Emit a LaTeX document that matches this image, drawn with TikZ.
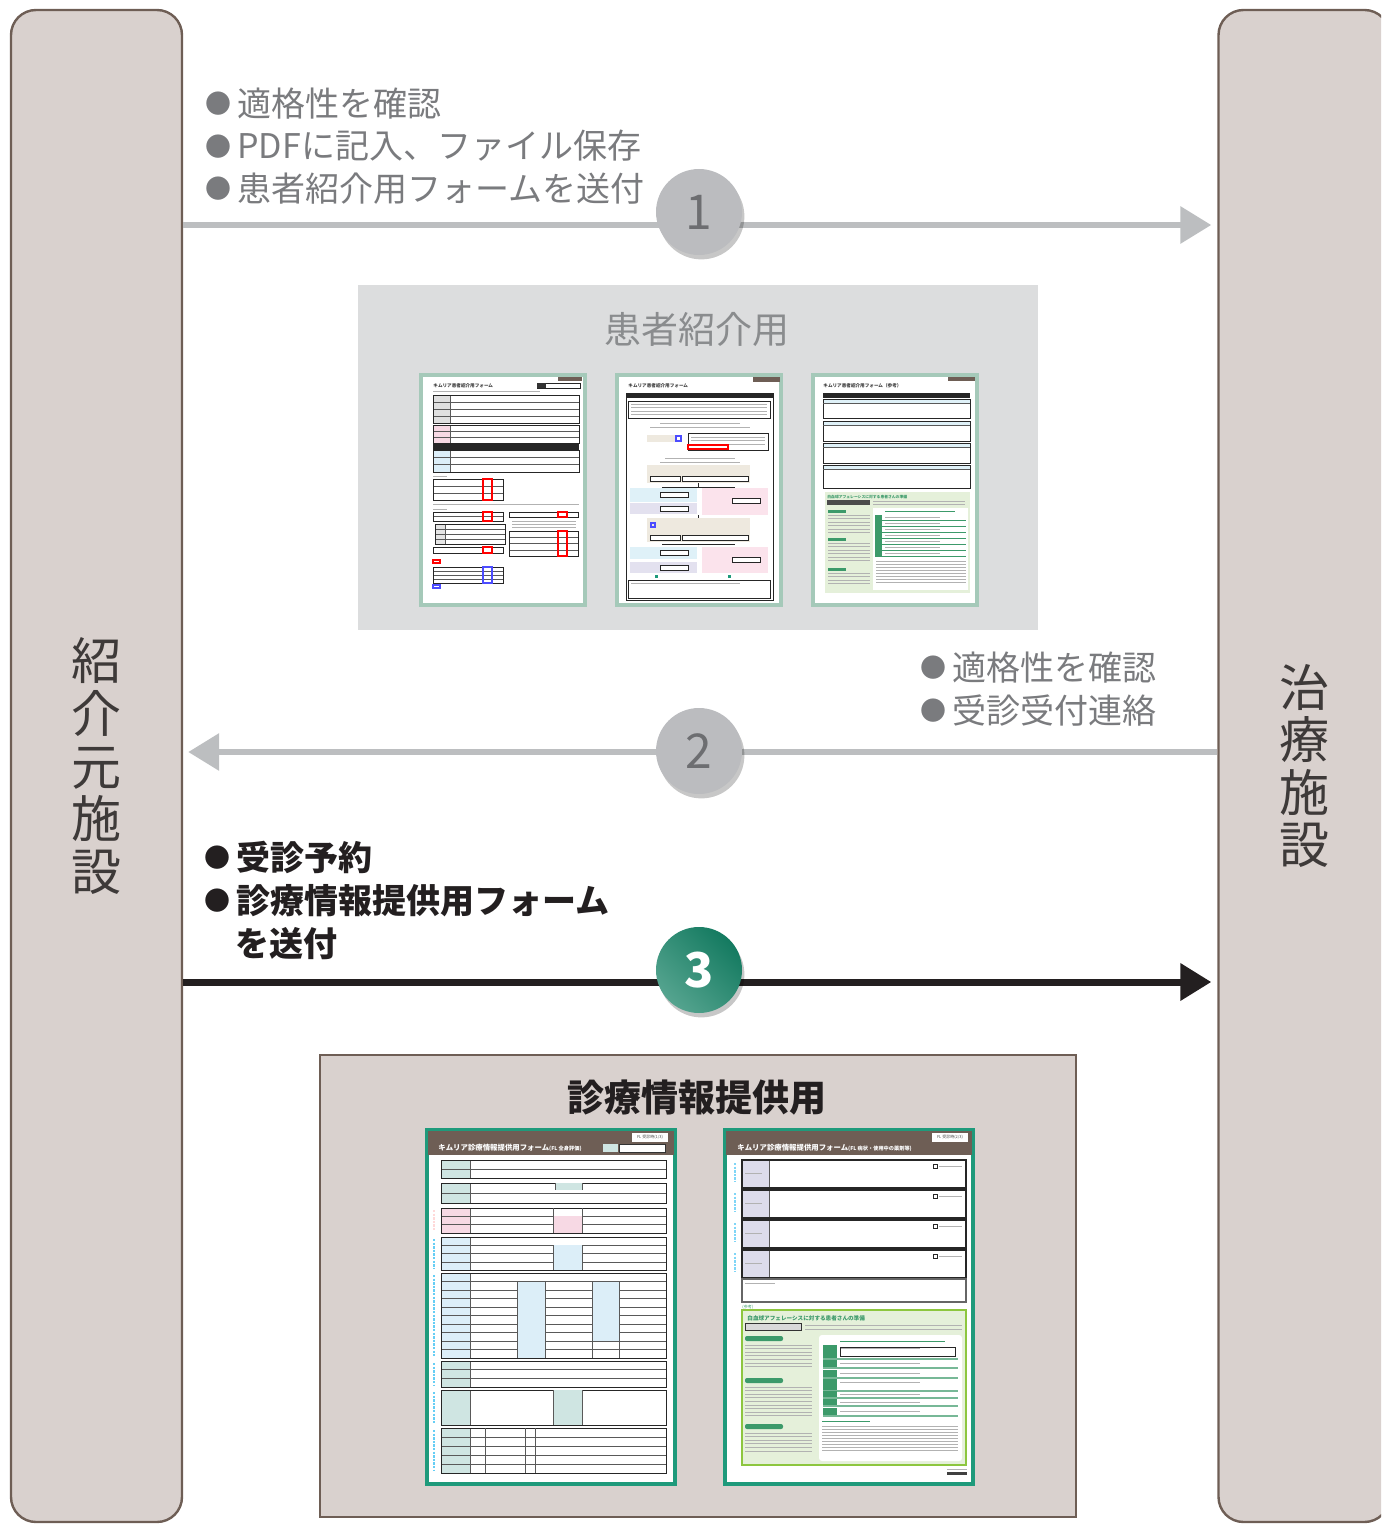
\documentclass[tikz,border=0pt]{standalone}
\usepackage{fontspec}
\setmainfont{Noto Sans CJK JP}
\usetikzlibrary{arrows.meta,shadows}
\definecolor{boxfill}{HTML}{D9D1CE}
\definecolor{boxdraw}{HTML}{6E5E55}
\definecolor{grayfill}{HTML}{DCDDDE}
\definecolor{arrgray}{HTML}{BCBEC0}
\definecolor{circgray}{HTML}{BBBCBF}
\definecolor{numgray}{HTML}{6D6E71}
\definecolor{txtgray}{HTML}{7A7B7E}
\definecolor{ttlgray}{HTML}{8A8C8E}
\definecolor{txtblack}{HTML}{231F20}
\definecolor{labeldark}{HTML}{3E3A39}
\definecolor{greenA}{HTML}{55A48F}
\definecolor{greenB}{HTML}{147A60}
\definecolor{thbrown}{HTML}{6E5E55}
\definecolor{thumbteal}{HTML}{A5C9B9}
\definecolor{tealB}{HTML}{1E9A7B}
\definecolor{labteal}{HTML}{CFE5E2}
\definecolor{labpink}{HTML}{F7D9E4}
\definecolor{labblue}{HTML}{DCEEF8}
\definecolor{lav}{HTML}{DDDCEB}
\definecolor{lgreen}{HTML}{E5F0DA}
\definecolor{dgreen}{HTML}{3C9A6A}
\definecolor{gborder}{HTML}{8DC63F}
\definecolor{beige}{HTML}{EEE9DF}
\definecolor{lblue}{HTML}{DFF1F8}
\definecolor{lpurple}{HTML}{E3E1EF}
\definecolor{lpink}{HTML}{FBE3EC}
\newcommand\gbul{\raisebox{1.4pt}{\fontsize{13}{13}\selectfont ●}\hspace{3pt}}
\newcommand\tblk[7]{%
  \fill[#7] (#1,#2) rectangle ({#1+#6},#4);
  \pgfmathsetmacro\tbstep{(#4-#2)/#5}%
  \ifnum#5>1
    \foreach \k in {2,...,#5}{\draw[tline] (#1,{#2+(\k-1)*\tbstep}) -- (#3,{#2+(\k-1)*\tbstep});}
  \fi
  \ifdim#6pt>0pt \draw[tline] ({#1+#6},#2) -- ({#1+#6},#4);\fi
  \draw[tframe] (#1,#2) rectangle (#3,#4);
}
\newcommand\txlines[5]{%
  \foreach \k in {1,...,#4}{\draw[txl] (#1,{#3+(\k-1)*#5}) -- (#2,{#3+(\k-1)*#5});}
}
\begin{document}
\begin{tikzpicture}[x=0.5pt,y=-0.5pt,
  facility/.style={draw=boxdraw, fill=boxfill, line width=1.2pt, rounded corners=12.5pt,
     minimum width=85.5pt, minimum height=756pt, inner sep=0pt, align=center,
     text=labeldark, font=\fontsize{25}{26.3}\selectfont},
  garrow/.style={draw=arrgray, line width=3.2pt, -{Triangle[length=15.5pt,width=18pt]}},
  barrow/.style={draw=txtblack, line width=3.5pt, -{Triangle[length=15.5pt,width=18pt]}},
  circ/.style={circle, minimum size=43pt, inner sep=0pt, font=\fontsize{24}{24}\selectfont,
     drop shadow={shadow xshift=1.2pt, shadow yshift=-2.2pt, opacity=0.22, fill=black}},
  gtext/.style={text=txtgray, font=\fontsize{17}{21.25}\selectfont, align=left, anchor=west, inner sep=0pt},
  btext/.style={text=txtblack, font=\fontsize{17}{21.5}\selectfont\bfseries, align=left, anchor=west, inner sep=0pt},
  tline/.style={line width=0.22pt, draw=black!65},
  tframe/.style={line width=0.5pt, draw=black!85},
  txl/.style={line width=0.45pt, draw=black!30},
  thumbtxt/.style={inner sep=0pt, anchor=west, font=\fontsize{2.3}{2.8}\selectfont\bfseries, text=black!75},
  thumbpage/.style={fill=white, draw=thumbteal, line width=1.6pt},
  thumbpageB/.style={fill=white, draw=tealB, line width=1.8pt}
]
\useasboundingbox (0,0) rectangle (1381,1524);
\clip (0,0) rectangle (1381,1524);

% facilities
\node[facility] (src) at (96.5,766) {紹\\介\\元\\施\\設};
\node[facility] (dst) at (1304,766) {治\\療\\施\\設};

% gray panel
\node[fill=grayfill, minimum width=340pt, minimum height=172.5pt, inner sep=0pt] (pbox) at (698,457.5) {};
\node[text=ttlgray, font=\fontsize{18.5}{18.5}\selectfont, inner sep=0pt] (ptitle) at (697,330) {患者紹介用};

% bottom panel
\node[fill=boxfill, draw=boxdraw, line width=1.2pt, minimum width=378pt, minimum height=231pt, inner sep=0pt] (bbox) at (698,1286) {};
\node[text=txtblack, font=\fontsize{18.5}{18.5}\selectfont\bfseries, inner sep=0pt] (btitle) at (697,1098) {診療情報提供用};

% arrows
\draw[garrow, shorten >=3pt] (src.east |- 0,225) -- (dst.west |- 0,225);
\draw[garrow, shorten >=2.5pt] (dst.west |- 0,752) -- (src.east |- 0,752);
\draw[barrow, shorten >=3pt] (src.east |- 0,982) -- (dst.west |- 0,982);

% step circles
\node[circ, fill=circgray, text=numgray] (c1) at (699,212) {1};
\node[circ, fill=circgray, text=numgray] (c2) at (699,751) {2};
\node[circ, left color=greenA, right color=greenB, shading angle=135, text=white, font=\fontsize{24}{24}\selectfont\bfseries] (c3) at (699,970) {3};

% step texts
\node[gtext] (t1) at (205,146) {\gbul 適格性を確認\\\gbul PDFに記入、ファイル保存\\\gbul 患者紹介用フォームを送付};
\node[gtext] (t2) at (920,689) {\gbul 適格性を確認\\\gbul 受診受付連絡};
\node[btext] (t3) at (204,900) {\gbul 受診予約\\\gbul 診療情報提供用フォーム\\\hspace*{15.5pt}を送付};

% ===== top thumbnail 1 =====
\draw[thumbpage] (421,375) rectangle (585,605);
\fill[thbrown] (558,377) rectangle (582,381);
\node[thumbtxt] at (433,386) {キムリア患者紹介用フォーム};
\draw[tframe] (537,383) rectangle (580,388); \fill[black!80] (537,383) rectangle (546,388);
\draw[txl] (433,391) -- (540,391);
\tblk{433}{395}{579}{423}{4}{17}{black!12}
\tblk{433}{425}{579}{443}{3}{17}{labpink}
\fill[black!85] (433,444) rectangle (579,449.5);
\tblk{433}{450}{579}{472}{3}{17}{labblue}
\draw[txl] (433,476) -- (447,476);
\tblk{433}{479}{503}{500}{3}{0}{white}
\draw[red, line width=0.6pt] (483,479) rectangle (492,500);
\draw[txl] (433,504) -- (579,504);
\draw[txl] (433,509) -- (447,509);
\tblk{433}{512}{503}{521}{2}{0}{white}
\draw[red, line width=0.6pt] (483,512) rectangle (492,521);
\tblk{435}{524}{505}{544}{4}{10}{black!10}
\tblk{433}{547}{503}{553}{1}{0}{white}
\draw[red, line width=0.6pt] (483,547) rectangle (492,553);
\tblk{509}{512}{578}{517}{1}{0}{white}
\draw[red, line width=0.6pt] (558,512) rectangle (567,517);
\txlines{512}{576}{521}{3}{3}
\tblk{509}{531}{578}{556}{4}{0}{white}
\draw[red, line width=0.6pt] (558,531) rectangle (567,556);
\draw[red, line width=0.6pt] (433,560) rectangle (440,563);
\tblk{433}{567}{503}{583}{4}{0}{white}
\draw[blue!70, line width=0.6pt] (483,567) rectangle (492,583);
\draw[blue!70, line width=0.6pt] (433,585) rectangle (440,588);

% ===== top thumbnail 2 =====
\draw[thumbpage] (617,375) rectangle (781,605);
\fill[thbrown] (753,377) rectangle (780,382);
\node[thumbtxt] at (628,386) {キムリア患者紹介用フォーム};
\draw[tframe] (626,393) rectangle (773,600);
\fill[black!85] (626,393) rectangle (773,398);
\draw[tframe] (628,401) rectangle (770,418);
\txlines{631}{767}{404}{4}{3.5}
\draw[txl] (660,423) -- (740,423); \draw[txl] (650,427) -- (750,427);
\fill[beige] (647,435) rectangle (675,442);
\draw[blue!70, line width=0.6pt] (676,436) rectangle (681,441);
\draw[tframe] (688,433) rectangle (768,450);
\txlines{691}{765}{437}{3}{3.5}
\draw[red, line width=0.6pt] (688,445) rectangle (728,449);
\draw[txl] (665,458) -- (735,458); \draw[txl] (660,462) -- (740,462);
\fill[beige] (647,465) rectangle (750,483);
\draw[tframe, fill=white] (650,476) rectangle (680,481); \draw[tframe, fill=white] (682,476) rectangle (748,481);
\draw[tframe] (698,483) -- (698,487); \draw[tframe] (662,487) -- (735,487);
\fill[lblue] (630,488) rectangle (697,502); \draw[tframe, fill=white] (660,492) rectangle (688,497);
\fill[lpurple] (630,503) rectangle (697,514); \draw[tframe, fill=white] (660,506) rectangle (688,511);
\fill[lpink] (702,488) rectangle (768,515); \draw[tframe, fill=white] (732,498) rectangle (760,503);
\draw[tframe] (698,515) -- (698,518);
\fill[beige] (647,518) rectangle (750,542);
\draw[blue!70, line width=0.6pt] (651,523) rectangle (655,527);
\draw[tframe, fill=white] (650,535) rectangle (680,540); \draw[tframe, fill=white] (682,535) rectangle (748,540);
\draw[tframe] (662,544) -- (735,544);
\fill[lblue] (630,547) rectangle (697,559); \draw[tframe, fill=white] (660,550) rectangle (688,555);
\fill[lpurple] (630,562) rectangle (697,573); \draw[tframe, fill=white] (660,565) rectangle (688,570);
\fill[lpink] (702,547) rectangle (768,573); \draw[tframe, fill=white] (732,557) rectangle (760,562);
\fill[tealB] (655,575) rectangle (658,578); \fill[tealB] (728,575) rectangle (731,578);
\draw[tframe] (628,580) rectangle (770,598);
\draw[txl] (631,583) -- (740,583);

% ===== top thumbnail 3 =====
\draw[thumbpage] (813,375) rectangle (977,605);
\fill[thbrown] (948,377) rectangle (975,381);
\node[thumbtxt] at (823,386) {キムリア患者紹介用フォーム（参考）};
\fill[black!85] (823,393) rectangle (970,398);
\foreach \ya/\yb in {399/418, 421/441, 443/463, 465/488}{
  \fill[lblue] (823,\ya) rectangle (970,\ya+4);
  \draw[tframe] (823,\ya) rectangle (970,\yb);
  \draw[tline] (823,\ya+4) -- (970,\ya+4);
}
\fill[lgreen] (825,492) rectangle (970,593);
\node[thumbtxt, text=dgreen, font=\fontsize{1.9}{2.2}\selectfont\bfseries] at (827,497) {白血球アフェレーシスに対する患者さんの準備};
\fill[black!70] (827,500) rectangle (870,505);
\txlines{873}{965}{501}{2}{3}
\foreach \yp in {510,538,568}{\fill[dgreen] (828,\yp) rectangle (846,\yp+3);}
\txlines{828}{870}{515}{6}{3.5}
\txlines{828}{870}{543}{6}{3.5}
\txlines{828}{870}{573}{4}{3.5}
\fill[white] (873,508) rectangle (968,590);
\draw[txl, draw=dgreen] (885,511) -- (955,511);
\foreach \yr in {515,521,527,533,539,545,551}{
  \fill[dgreen] (875,\yr) rectangle (882,\yr+4.5);
  \draw[dgreen, line width=0.5pt] (875,\yr+5) -- (966,\yr+5);
  \draw[txl] (885,\yr+2) -- (940,\yr+2);
}
\txlines{876}{966}{561}{8}{3}

% ===== bottom thumbnail 1 =====
\draw[thumbpageB] (427,1130) rectangle (675,1484);
\fill[thbrown] (428,1131) rectangle (674,1155);
\node[fill=white, inner sep=0pt, minimum width=18pt, minimum height=4.5pt, font=\fontsize{2}{2}\selectfont, text=black!70] at (650,1137.5) {FL 受診時(1/3)};
\node[thumbtxt, text=white, font=\fontsize{3.7}{4}\selectfont\bfseries] at (438,1148) {キムリア診療情報提供用フォーム\fontsize{2.6}{3}\selectfont(FL 全身評価)};
\fill[labteal] (603,1144) rectangle (618,1152);
\draw[fill=white, line width=0.5pt, draw=black!80] (619,1144) rectangle (665,1152);
\tblk{441}{1160}{666}{1178}{2}{29}{labteal}
\tblk{441}{1183}{666}{1203}{2}{29}{labteal}
\fill[labteal] (555,1183) rectangle (582,1190); \draw[tline] (555,1183) -- (555,1190); \draw[tline] (582,1183) -- (582,1190);
\tblk{441}{1208}{666}{1233}{3}{29}{labpink}
\fill[labpink] (553,1216) rectangle (582,1233); \draw[tline] (553,1208) -- (553,1233); \draw[tline] (582,1208) -- (582,1233);
\tblk{441}{1237}{666}{1270}{4}{29}{labblue}
\fill[labblue] (553,1245) rectangle (582,1270); \draw[tline] (553,1245) -- (553,1270); \draw[tline] (582,1245) -- (582,1270);
\tblk{441}{1273}{666}{1358}{10}{29}{labblue}
\fill[labblue] (517,1281.5) rectangle (545,1358); \fill[labblue] (592,1281.5) rectangle (619,1341);
\foreach \xv in {517,545,592,619}{\draw[tline] (\xv,1281.5) -- (\xv,1358);}
\draw[tframe] (441,1273) rectangle (666,1358);
\tblk{441}{1361}{666}{1387}{3}{29}{labteal}
\tblk{441}{1390}{666}{1425}{1}{29}{labteal}
\fill[labteal] (553,1390) rectangle (582,1425); \draw[tline] (553,1390) -- (553,1425); \draw[tline] (582,1390) -- (582,1425);
\tblk{441}{1428}{666}{1473}{5}{29}{labteal}
\foreach \xv in {485,525,535}{\draw[tline] (\xv,1428) -- (\xv,1473);}
\foreach \ya/\yb/\cc in {1208/1233/pink, 1237/1270/cyan, 1273/1358/cyan, 1361/1387/cyan, 1390/1425/cyan, 1428/1473/cyan}{
  \draw[\cc!60, line width=0.8pt, dash pattern=on 1.2pt off 0.6pt] (434,\ya+2) -- (434,\yb-2);
}

% ===== bottom thumbnail 2 =====
\draw[thumbpageB] (725,1130) rectangle (973,1484);
\fill[thbrown] (726,1131) rectangle (972,1155);
\node[fill=white, inner sep=0pt, minimum width=18pt, minimum height=4.5pt, font=\fontsize{2}{2}\selectfont, text=black!70] at (950,1137.5) {FL 受診時(2/3)};
\node[thumbtxt, text=white, font=\fontsize{3.7}{4}\selectfont\bfseries] at (737,1148) {キムリア診療情報提供用フォーム\fontsize{2.6}{3}\selectfont(FL 病状・使用中の薬剤等)};
\foreach \ya in {1160,1190,1220,1250}{
  \fill[lav] (742,\ya) rectangle (769,\ya+28);
  \draw[tline] (769,\ya) -- (769,\ya+28);
  \draw[line width=0.8pt, draw=black!85] (742,\ya) rectangle (966,\ya+28);
  \draw[line width=0.5pt, draw=black!85] (933,\ya+4) rectangle (937,\ya+8);
  \draw[txl] (939,\ya+6) -- (962,\ya+6);
  \draw[txl] (745,\ya+13) -- (762,\ya+13);
  \draw[cyan!50, line width=0.7pt, dash pattern=on 1.2pt off 0.6pt] (735,\ya+3) -- (735,\ya+22);
}
\draw[line width=0.7pt, draw=black!60] (742,1279) rectangle (966,1302);
\draw[txl] (745,1283) -- (775,1283);
\node[thumbtxt, text=dgreen, font=\fontsize{2}{2}\selectfont] at (742,1307) {(参考)};
\draw[fill=lgreen, draw=gborder, line width=0.7pt] (742,1310) rectangle (966,1465);
\node[thumbtxt, text=dgreen, font=\fontsize{2.8}{3}\selectfont\bfseries] at (747,1318) {白血球アフェレーシスに対する患者さんの準備};
\draw[fill=black!15, draw=black!80, line width=0.5pt] (745,1323) rectangle (801,1330);
\txlines{805}{962}{1325}{2}{4}
\foreach \yp/\n in {1336/7, 1378/9, 1424/6}{
  \fill[dgreen, rounded corners=1pt] (745,\yp) rectangle (783,\yp+5);
  \txlines{745}{812}{\yp+9}{\n}{3.6}
}
\fill[white, rounded corners=1.5pt] (819,1335) rectangle (962,1461);
\draw[txl, draw=dgreen] (840,1341) -- (945,1341);
\foreach \ya/\yb in {1345/1358, 1360/1367, 1370/1377, 1379/1390, 1391/1397, 1399/1405, 1408/1415}{
  \fill[dgreen] (823,\ya) rectangle (837,\yb);
  \draw[dgreen!70, line width=0.7pt] (823,\yb+1) -- (958,\yb+1);
  \draw[txl] (840,\ya+3) -- (920,\ya+3);
}
\draw[tframe] (840,1347) rectangle (955,1356);
\draw[txl, draw=dgreen] (822,1421) -- (870,1421);
\txlines{822}{958}{1426}{9}{3}
\draw[txl] (947,1469) -- (967,1469);
\fill[black!75] (947,1472) rectangle (967,1475);
\end{tikzpicture}
\end{document}
